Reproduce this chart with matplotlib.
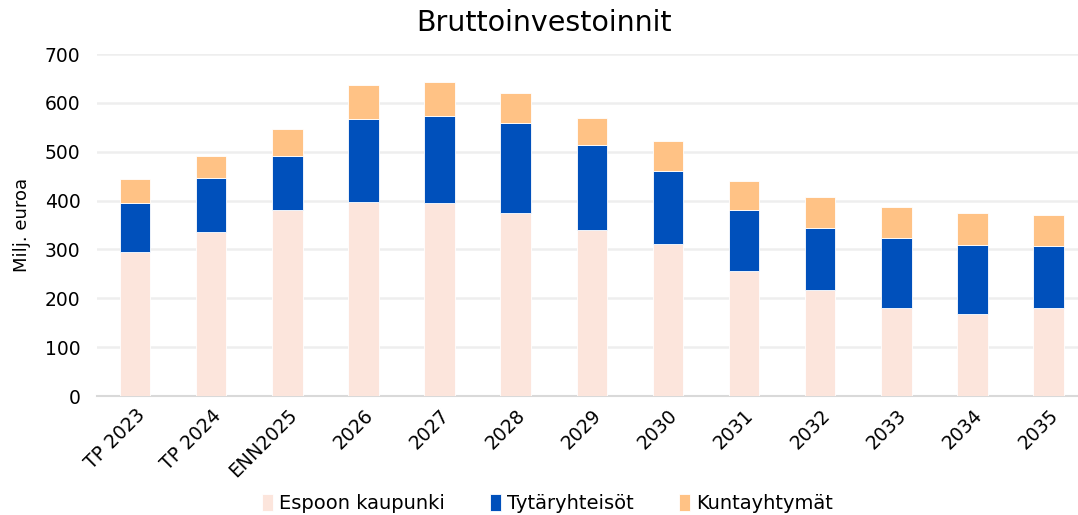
import numpy as np
import matplotlib
matplotlib.use("Agg")
import matplotlib.pyplot as plt

# Values (Milj. euroa)
categories = ["TP 2023", "TP 2024", "ENN2025", "2026", "2027", "2028", "2029",
              "2030", "2031", "2032", "2033", "2034", "2035"]
espoo = [295, 336, 381, 398, 396, 375, 339, 311, 256, 217, 181, 168, 181]
tytar = [101, 110, 110, 170, 177, 184, 175, 150, 125, 127, 143, 141, 126]
kunta = [48, 45, 55, 68, 70, 62, 56, 61, 59, 63, 62, 65, 64]
series_names = ["Espoon kaupunki", "Tytäryhteisöt", "Kuntayhtymät"]
colors = ["#FCE5DC", "#0050BB", "#FFC285"]

plt.rcParams["font.family"] = ["DejaVu Sans"]

fig = plt.figure(figsize=(10.78, 5.15), dpi=100)
ax = fig.add_axes([0.090, 0.231, 0.918, 0.664])

x = np.arange(len(categories))
width = 0.4
bottom = np.zeros(len(categories))
for vals, name, col in zip([espoo, tytar, kunta], series_names, colors):
    ax.bar(x, vals, width, bottom=bottom, color=col, label=name,
           edgecolor="white", linewidth=0.6, zorder=3)
    bottom += np.array(vals)

ax.set_xlim(-0.5, 12.5)
ax.set_ylim(0, 700)
ax.set_yticks(range(0, 701, 100))
ax.yaxis.grid(True, color="#EEEEEE", linewidth=1.8, zorder=0)
ax.set_axisbelow(True)
for s in ["top", "right", "left"]:
    ax.spines[s].set_visible(False)
ax.spines["bottom"].set_color("#D9D9D9")
ax.spines["bottom"].set_linewidth(1.5)
ax.tick_params(axis="both", length=0, labelsize=13.5, colors="#000000")
ax.tick_params(axis="y", pad=12)
ax.set_xticks(x)
ax.set_xticklabels(categories, rotation=45, ha="right", rotation_mode="anchor")
ax.tick_params(axis="x", pad=7)

ax.set_ylabel("Milj. euroa", fontsize=13, labelpad=10)
fig.text(0.505, 0.955, "Bruttoinvestoinnit", ha="center", va="center", fontsize=20.5)

ax.legend(loc="center", bbox_to_anchor=(0.455, -0.315), ncol=3, frameon=False,
          fontsize=14, handlelength=0.6, handleheight=0.9, handletextpad=0.3,
          columnspacing=2.3)

fig.savefig("out.png", dpi=100)
